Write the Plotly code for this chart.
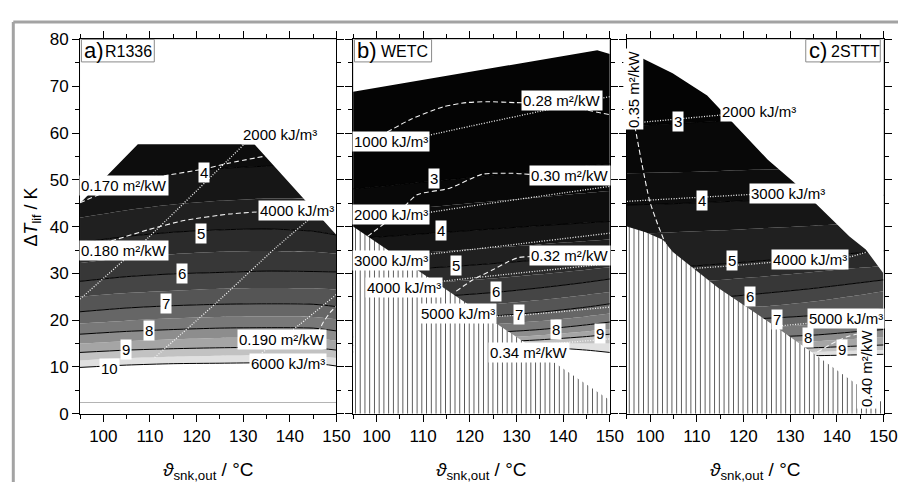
import plotly.graph_objects as go

FONT = "Liberation Sans, Arial, Helvetica, sans-serif"
TICK_FONT = "Liberation Sans Narrow, Arial Narrow, Liberation Sans, Arial, sans-serif"

# ---------------- common grid (x columns at which iso-line heights were read)
X_COLS = [95, 105, 115, 125, 135, 145, 150]

# ---------------- grey value of each COP band (band [L, L+0.5])
BAND_LEVELS = [2.5, 3, 3.5, 4, 4.5, 5, 5.5, 6, 6.5, 7, 7.5, 8, 8.5, 9, 9.5, 10]
BAND_GRAYS = ["#040404", "#080808", "#0d0d0d", "#161616", "#202020", "#2b2b2b",
              "#373737", "#454545", "#555555", "#666666", "#787878", "#8d8d8d",
              "#a5a5a5", "#c2c2c2", "#e0e0e0", "#ffffff"]

# ---------------- panel a) R1336 : COP iso-lines (y at X_COLS)
A_COP_4 = [48.0, 50.0, 51.3, 52.4, 52.9, 52.8, 52.4]
A_COP_4_5 = [41.9, 43.5, 44.7, 45.5, 46.0, 45.9, 45.5]
A_COP_5 = [36.6, 37.9, 38.8, 39.3, 39.5, 39.0, 38.2]
A_COP_5_5 = [32.2, 33.4, 34.1, 34.6, 34.8, 34.6, 34.2]
A_COP_6 = [28.3, 29.3, 29.9, 30.2, 30.5, 30.4, 30.3]
A_COP_6_5 = [25.0, 25.8, 26.3, 26.7, 26.9, 26.8, 26.5]
A_COP_7 = [21.8, 22.6, 23.1, 23.4, 23.5, 23.4, 22.9]
A_COP_7_5 = [19.3, 19.9, 20.4, 20.7, 20.8, 20.7, 20.2]
A_COP_8 = [17.0, 17.6, 18.0, 18.3, 18.4, 18.3, 17.7]
A_COP_8_5 = [15.0, 15.5, 15.9, 16.2, 16.3, 16.2, 15.6]
A_COP_9 = [13.1, 13.6, 13.9, 14.1, 14.2, 14.1, 13.6]
A_COP_9_5 = [11.4, 11.9, 12.2, 12.4, 12.5, 12.4, 11.9]
A_COP_10 = [9.9, 10.4, 10.7, 10.8, 10.9, 10.8, 10.2]
A_TOP_BAND = 3.5
# feasible-region upper edge
A_EDGE_X = [95, 107.4, 132.4, 150]
A_EDGE_Y = [45.0, 57.6, 57.6, 38.2]
# light grey line near the bottom
A_GREY_X = [95, 150]
A_GREY_Y = [2.4, 2.4]
# white dashed (m²/kW) and dotted (kJ/m³) iso-lines
A_D170_X = [95.0, 99.0, 104.0, 113.4, 121.5, 127.1, 134.9]
A_D170_Y = [45.1, 46.8, 48.6, 50.9, 52.3, 53.6, 55.1]
A_D180_X = [95.0, 102.5, 109.5, 117.3, 127.1, 134.2]
A_D180_Y = [35.5, 37.2, 39.3, 41.3, 42.7, 43.2]
A_D190_X = [146.0, 147.2, 148.6, 150.0]
A_D190_Y = [17.2, 19.6, 21.6, 23.0]
A_K2000_X = [95.0, 108.1, 130.3]
A_K2000_Y = [24.5, 36.2, 57.7]
A_K4000_X = [111.0, 124.0, 137.0, 145.5]
A_K4000_Y = [12.0, 23.5, 35.5, 42.7]
A_K6000_X = [134.0, 142.0, 150.0]
A_K6000_Y = [13.0, 19.0, 25.5]
# labels
A_COP_LAB = ["4", "5", "6", "7", "8", "9", "10"]
A_COP_LAB_X = [121.6, 120.9, 116.9, 113.4, 109.9, 104.8, 101.4]
A_COP_LAB_Y = [51.6, 38.6, 30.0, 23.5, 17.7, 13.7, 9.6]
A_TXT = ["0.170 m²/kW", "0.180 m²/kW", "0.190 m²/kW", "2000 kJ/m³", "4000 kJ/m³", "6000 kJ/m³"]
A_TXT_X = [104.4, 104.4, 138.3, 137.9, 141.5, 139.6]
A_TXT_Y = [48.8, 34.8, 15.9, 59.6, 43.5, 10.7]

# ---------------- panel b) WETC
B_COP_3 = [48.0, 49.0, 50.0, 51.0, 52.0, 53.0, 53.4]
B_COP_3_5 = [42.8, 43.6, 44.5, 45.4, 46.3, 47.2, 47.6]
B_COP_4 = [37.4, 38.1, 38.8, 39.5, 40.2, 40.8, 41.1]
B_COP_4_5 = [33.7, 34.2, 34.8, 35.5, 36.2, 36.9, 37.3]
B_COP_5 = [30.3, 30.8, 31.4, 32.1, 32.9, 33.8, 34.3]
B_COP_5_5 = [27.2, 27.7, 28.2, 28.9, 29.8, 30.8, 31.3]
B_COP_6 = [24.2, 24.7, 25.2, 25.9, 26.9, 28.1, 28.8]
B_COP_6_5 = [21.8, 22.2, 22.7, 23.4, 24.3, 25.4, 26.0]
B_COP_7 = [19.5, 19.9, 20.3, 20.9, 21.7, 22.8, 23.5]
B_COP_7_5 = [17.9, 18.2, 18.6, 19.1, 19.8, 20.8, 21.4]
B_COP_8 = [16.4, 16.7, 17.0, 17.4, 18.0, 19.0, 19.6]
B_COP_8_5 = [15.4, 15.6, 15.9, 16.2, 16.8, 17.6, 18.1]
B_COP_9 = [14.6, 14.8, 15.0, 15.3, 15.8, 16.5, 17.0]
B_COP_9_5 = [13.9, 14.1, 14.3, 14.6, 14.9, 15.0, 15.0]
B_COP_10 = [13.2, 13.4, 13.6, 13.9, 14.2, 13.6, 13.1]
B_TOP_BAND = 2.5
B_EDGE_X = [95, 147.3, 150]
B_EDGE_Y = [68.8, 77.7, 76.9]
B_HATCH_X = [95, 150]
B_HATCH_Y = [40.0, 2.9]
B_D28_X = [102.3, 107.3, 114.3, 119.2, 124.0, 129.7, 140.0, 145.2, 150.0]
B_D28_Y = [60.2, 62.9, 65.6, 66.5, 66.7, 66.5, 66.2, 64.9, 63.9]
B_D30_X = [98.1, 101.5, 105.1, 108.7, 115.7, 122.7, 129.0, 135.0]
B_D30_Y = [37.9, 40.5, 43.4, 46.8, 48.2, 51.2, 51.4, 51.0]
B_D32_X = [117.1, 120.6, 124.8, 128.0, 130.5, 133.5]
B_D32_Y = [26.2, 28.6, 30.7, 32.4, 33.4, 33.6]
B_K1000_X = [111.1, 120.3, 150.0]
B_K1000_Y = [59.5, 61.5, 67.8]
B_K2000_X = [111.1, 120.3, 150.0]
B_K2000_Y = [43.0, 44.4, 48.6]
B_K3000_X = [111.1, 120.3, 150.0]
B_K3000_Y = [34.1, 35.1, 38.6]
B_K4000_X = [113.9, 120.3, 150.0]
B_K4000_Y = [28.3, 29.0, 32.1]
B_K5000_X = [125.2, 131.2, 150.0]
B_K5000_Y = [20.8, 21.1, 22.8]
B_K6000_X = [138.0, 150.0]
B_K6000_Y = [15.0, 16.0]
B_COP_LAB = ["3", "4", "5", "6", "7", "8", "9"]
B_COP_LAB_X = [112.4, 113.9, 117.1, 125.7, 130.5, 138.5, 147.9]
B_COP_LAB_Y = [50.3, 39.1, 31.6, 26.1, 21.3, 18.1, 17.2]
B_TXT = ["0.28 m²/kW", "0.30 m²/kW", "0.32 m²/kW", "0.34 m²/kW",
         "1000 kJ/m³", "2000 kJ/m³", "3000 kJ/m³", "4000 kJ/m³", "5000 kJ/m³"]
B_TXT_X = [139.8, 141.4, 141.5, 132.7, 103.2, 103.2, 103.2, 105.8, 117.4]
B_TXT_Y = [67.0, 50.9, 33.8, 13.0, 58.1, 42.5, 32.7, 26.9, 21.4]

# ---------------- panel c) 2STTT
C_COP_3 = [61.5, 62.0, 62.5, 63.0, 63.5, 64.0, 64.2]
C_COP_3_5 = [51.4, 51.6, 51.9, 52.2, 52.6, 53.0, 53.2]
C_COP_4 = [44.6, 44.9, 45.3, 45.7, 46.1, 46.5, 46.7]
C_COP_4_5 = [38.4, 38.8, 39.2, 39.7, 40.2, 40.7, 41.0]
C_COP_5 = [30.8, 31.3, 32.0, 32.8, 33.6, 34.4, 34.8]
C_COP_5_5 = [27.6, 28.0, 28.6, 29.4, 30.3, 31.2, 31.6]
C_COP_6 = [24.0, 24.4, 24.9, 25.8, 26.8, 28.0, 28.6]
C_COP_6_5 = [21.8, 22.0, 22.4, 23.0, 24.0, 25.4, 26.2]
C_COP_7 = [19.6, 19.8, 20.0, 20.4, 21.0, 21.9, 22.4]
C_COP_7_5 = [17.8, 18.0, 18.2, 18.5, 19.0, 19.8, 20.2]
C_COP_8 = [16.0, 16.1, 16.2, 16.4, 16.8, 17.6, 18.0]
C_COP_8_5 = [14.8, 14.9, 15.0, 15.2, 15.5, 16.1, 16.4]
C_COP_9 = [13.6, 13.7, 13.8, 13.9, 14.1, 14.5, 14.7]
C_COP_9_5 = [12.8, 12.9, 13.0, 13.1, 13.2, 13.5, 13.6]
C_COP_10 = [12.0, 12.1, 12.2, 12.3, 12.4, 12.6, 12.7]
C_TOP_BAND = 2.5
C_EDGE_X = [95, 98.5, 104.8, 112.2, 115.4, 125.2, 130.8, 142.7, 146.2, 150]
C_EDGE_Y = [77.6, 75.9, 72.8, 68.0, 64.6, 54.3, 49.5, 37.9, 35.1, 30.0]
C_HATCH_X = [95, 99, 102.7, 104.8, 114.6, 126.6, 135, 149.8, 150]
C_HATCH_Y = [40.0, 38.8, 37.2, 34.6, 26.9, 18.8, 12.9, 2.3, 2.2]
C_D35_X = [96.7, 98.2, 99.9, 101.6, 103.4]
C_D35_Y = [61.5, 53.5, 45.4, 40.5, 36.0]
C_D40_X = [135.8, 139.0, 142.0, 144.2, 146.5]
C_D40_Y = [13.2, 15.0, 16.4, 17.0, 17.4]
C_K2000_X = [97.1, 115.7]
C_K2000_Y = [62.2, 63.9]
C_K3000_X = [95.0, 122.0]
C_K3000_Y = [45.4, 46.9]
C_K4000_X = [108.3, 117.0, 126.6, 142.1, 146.2]
C_K4000_Y = [31.0, 31.6, 32.4, 33.4, 34.5]
C_K5000_X = [126.6, 133.6]
C_K5000_Y = [18.7, 19.3]
C_COP_LAB = ["3", "4", "5", "6", "7", "8", "9"]
C_COP_LAB_X = [106.0, 111.0, 117.6, 121.3, 127.1, 133.8, 141.0]
C_COP_LAB_Y = [62.4, 45.6, 32.7, 25.0, 20.2, 16.3, 13.8]
C_TXT = ["2000 kJ/m³", "3000 kJ/m³", "4000 kJ/m³", "5000 kJ/m³"]
C_TXT_X = [123.4, 129.6, 134.3, 141.9]
C_TXT_Y = [64.6, 47.1, 33.0, 20.4]
C_VTXT = ["0.35 m²/kW", "0.40 m²/kW"]
C_VTXT_X = [96.4, 146.4]
C_VTXT_Y = [69.5, 9.7]

X_RANGE = [95, 150]
Y_RANGE = [0, 80]
PANEL_TITLES = ["a)", "b)", "c)"]
PANEL_NAMES = ["R1336", "WETC", "2STTT"]

# ---------------- layout geometry (paper / axis-domain fractions)
X_DOMAINS = [[0.0891, 0.3747], [0.3932, 0.6791], [0.6981, 0.9839]]
Y_DOMAIN = [0.1443, 0.9356]
TITLE_BOX_X = [[0.0054, 0.2896], [0.0054, 0.3057], [0.6969, 0.9873]]
TITLE_BOX_Y = [0.940, 1.0]
TITLE_TAG_X = [0.0090, 0.0090, 0.7030]
TITLE_NAME_X = [0.0880, 0.1000, 0.7880]

fig = go.Figure()


def band_color(level):
    return BAND_GRAYS[BAND_LEVELS.index(level)]


def axes(i):
    s = "" if i == 0 else str(i + 1)
    return "x" + s, "y" + s


def add_panel(i, curves, top_band, edge_x, edge_y, hatch_x=None, hatch_y=None):
    xa, ya = axes(i)
    base = dict(xaxis=xa, yaxis=ya, hoverinfo="skip", showlegend=False)
    # filled COP bands, bottom (high COP) to top
    fig.add_trace(go.Scatter(x=X_RANGE, y=[Y_RANGE[0]] * 2, mode="lines",
                             line=dict(width=0), **base))
    for lev, ys in sorted(curves, key=lambda t: -t[0]):
        fig.add_trace(go.Scatter(x=X_COLS, y=ys, mode="lines",
                                 line=dict(width=0, shape="spline", smoothing=0.7),
                                 fill="tonexty", fillcolor=band_color(lev), **base))
    fig.add_trace(go.Scatter(x=X_RANGE, y=[Y_RANGE[1]] * 2, mode="lines",
                             line=dict(width=0), fill="tonexty",
                             fillcolor=band_color(top_band), **base))
    # solid black iso-lines at integer COP
    for lev, ys in curves:
        if float(lev).is_integer():
            fig.add_trace(go.Scatter(x=X_COLS, y=ys, mode="lines",
                                     line=dict(color="black", width=1,
                                               shape="spline", smoothing=0.7), **base))
    # white area above the feasible region
    px = [X_RANGE[0]] + list(edge_x) + [X_RANGE[1]]
    py = [Y_RANGE[1]] + list(edge_y) + [Y_RANGE[1]]
    fig.add_trace(go.Scatter(x=px, y=py, mode="lines", fill="toself",
                             fillcolor="white", line=dict(width=0), **base))
    # hatched infeasible region
    if hatch_x is not None:
        hx = list(hatch_x) + [X_RANGE[1], X_RANGE[0]]
        hy = list(hatch_y) + [Y_RANGE[0], Y_RANGE[0]]
        fig.add_trace(go.Scatter(x=hx, y=hy, mode="lines", fill="toself",
                                 line=dict(width=0), fillcolor="white",
                                 fillpattern=dict(shape="|", size=4.74, solidity=0.2,
                                                  fgcolor="#555555", bgcolor="white",
                                                  fillmode="replace"),
                                 **base))


def add_white(i, xs, ys, kind):
    xa, ya = axes(i)
    dash = "5px,3px" if kind == "dash" else "1px,1.6px"
    w = 1.1 if kind == "dash" else 1.3
    fig.add_trace(go.Scatter(x=xs, y=ys, mode="lines",
                             line=dict(color="#f4f4f4", width=w, dash=dash, shape="spline",
                                       smoothing=0.6),
                             xaxis=xa, yaxis=ya, hoverinfo="skip", showlegend=False))


def add_label(i, text, x, y, size=15, angle=0):
    xa, ya = axes(i)
    fig.add_annotation(x=x, y=y, xref=xa, yref=ya, text=text, showarrow=False,
                       font=dict(family=FONT, size=size, color="black"),
                       bgcolor="white", borderpad=1, textangle=angle)


# ---------- panel a
add_panel(0, [(4, A_COP_4), (4.5, A_COP_4_5), (5, A_COP_5), (5.5, A_COP_5_5),
              (6, A_COP_6), (6.5, A_COP_6_5), (7, A_COP_7), (7.5, A_COP_7_5),
              (8, A_COP_8), (8.5, A_COP_8_5), (9, A_COP_9), (9.5, A_COP_9_5),
              (10, A_COP_10)], A_TOP_BAND, A_EDGE_X, A_EDGE_Y)
fig.add_trace(go.Scatter(x=A_GREY_X, y=A_GREY_Y, mode="lines",
                         line=dict(color="#b4b4b4", width=1.2),
                         xaxis="x", yaxis="y", hoverinfo="skip", showlegend=False))
for xs, ys in [(A_D170_X, A_D170_Y), (A_D180_X, A_D180_Y), (A_D190_X, A_D190_Y)]:
    add_white(0, xs, ys, "dash")
for xs, ys in [(A_K2000_X, A_K2000_Y), (A_K4000_X, A_K4000_Y), (A_K6000_X, A_K6000_Y)]:
    add_white(0, xs, ys, "dot")
for t, x, y in zip(A_COP_LAB, A_COP_LAB_X, A_COP_LAB_Y):
    add_label(0, t, x, y, 15)
for t, x, y in zip(A_TXT, A_TXT_X, A_TXT_Y):
    add_label(0, t, x, y, 15)

# ---------- panel b
add_panel(1, [(3, B_COP_3), (3.5, B_COP_3_5), (4, B_COP_4), (4.5, B_COP_4_5),
              (5, B_COP_5), (5.5, B_COP_5_5), (6, B_COP_6), (6.5, B_COP_6_5),
              (7, B_COP_7), (7.5, B_COP_7_5), (8, B_COP_8), (8.5, B_COP_8_5),
              (9, B_COP_9), (9.5, B_COP_9_5), (10, B_COP_10)],
          B_TOP_BAND, B_EDGE_X, B_EDGE_Y, B_HATCH_X, B_HATCH_Y)
for xs, ys in [(B_D28_X, B_D28_Y), (B_D30_X, B_D30_Y), (B_D32_X, B_D32_Y)]:
    add_white(1, xs, ys, "dash")
for xs, ys in [(B_K1000_X, B_K1000_Y), (B_K2000_X, B_K2000_Y), (B_K3000_X, B_K3000_Y),
               (B_K4000_X, B_K4000_Y), (B_K5000_X, B_K5000_Y), (B_K6000_X, B_K6000_Y)]:
    add_white(1, xs, ys, "dot")
for t, x, y in zip(B_COP_LAB, B_COP_LAB_X, B_COP_LAB_Y):
    add_label(1, t, x, y, 15)
for t, x, y in zip(B_TXT, B_TXT_X, B_TXT_Y):
    add_label(1, t, x, y, 15)

# ---------- panel c
add_panel(2, [(3, C_COP_3), (3.5, C_COP_3_5), (4, C_COP_4), (4.5, C_COP_4_5),
              (5, C_COP_5), (5.5, C_COP_5_5), (6, C_COP_6), (6.5, C_COP_6_5),
              (7, C_COP_7), (7.5, C_COP_7_5), (8, C_COP_8), (8.5, C_COP_8_5),
              (9, C_COP_9), (9.5, C_COP_9_5), (10, C_COP_10)],
          C_TOP_BAND, C_EDGE_X, C_EDGE_Y, C_HATCH_X, C_HATCH_Y)
for xs, ys in [(C_D35_X, C_D35_Y), (C_D40_X, C_D40_Y)]:
    add_white(2, xs, ys, "dash")
for xs, ys in [(C_K2000_X, C_K2000_Y), (C_K3000_X, C_K3000_Y), (C_K4000_X, C_K4000_Y),
               (C_K5000_X, C_K5000_Y)]:
    add_white(2, xs, ys, "dot")
for t, x, y in zip(C_COP_LAB, C_COP_LAB_X, C_COP_LAB_Y):
    add_label(2, t, x, y, 15)
for t, x, y in zip(C_TXT, C_TXT_X, C_TXT_Y):
    add_label(2, t, x, y, 15)
for t, x, y in zip(C_VTXT, C_VTXT_X, C_VTXT_Y):
    add_label(2, t, x, y, 15, angle=-90)

# ---------- axes
layout = dict(width=912, height=492, margin=dict(l=0, r=0, t=0, b=0),
              paper_bgcolor="white", plot_bgcolor="white", showlegend=False)
for i in range(3):
    s = "" if i == 0 else str(i + 1)
    layout["xaxis" + s] = dict(
        domain=X_DOMAINS[i], anchor="y" + s, range=X_RANGE, dtick=10, tick0=100,
        ticks="outside", ticklen=7, tickwidth=1, tickcolor="black",
        showline=True, linecolor="black", linewidth=1, mirror="ticks",
        showgrid=False, zeroline=False,
        minor=dict(dtick=5, tick0=95, ticks="outside", ticklen=4, tickwidth=1,
                   tickcolor="black", showgrid=False),
        tickfont=dict(family=TICK_FONT, size=17, color="black"))
    layout["yaxis" + s] = dict(
        domain=Y_DOMAIN, anchor="x" + s, range=Y_RANGE, dtick=10, tick0=0,
        ticks="outside", ticklen=7, tickwidth=1, tickcolor="black",
        showline=True, linecolor="black", linewidth=1, mirror="ticks",
        showgrid=False, zeroline=False, showticklabels=(i == 0),
        minor=dict(dtick=5, tick0=0, ticks="outside", ticklen=4, tickwidth=1,
                   tickcolor="black", showgrid=False),
        tickfont=dict(family=TICK_FONT, size=17, color="black"))
fig.update_layout(**layout)

# panel titles (boxed) and x-axis titles
for i in range(3):
    s = "" if i == 0 else str(i + 1)
    xd, yd = "x" + s + " domain", "y" + s + " domain"
    fig.add_shape(type="rect", xref=xd, yref=yd,
                  x0=TITLE_BOX_X[i][0], x1=TITLE_BOX_X[i][1],
                  y0=TITLE_BOX_Y[0], y1=TITLE_BOX_Y[1],
                  line=dict(color="#8a8a8a", width=1), fillcolor="white", layer="above")
    fig.add_annotation(xref=xd, yref=yd, x=TITLE_TAG_X[i], y=0.971,
                       xanchor="left", yanchor="middle", showarrow=False,
                       text=PANEL_TITLES[i],
                       font=dict(family=FONT, size=22, color="black"))
    fig.add_annotation(xref=xd, yref=yd, x=TITLE_NAME_X[i], y=0.969,
                       xanchor="left", yanchor="middle", showarrow=False,
                       text=PANEL_NAMES[i],
                       font=dict(family=FONT, size=16, color="black"))
    fig.add_annotation(
        xref=xd, yref="paper", x=0.5, y=0.024,
        xanchor="center", yanchor="middle", showarrow=False,
        text="<i>ϑ</i><sub>snk,out</sub> / °C",
        font=dict(family=FONT, size=19, color="black"))

# y-axis title
fig.add_annotation(xref="paper", yref="paper", x=33 / 912, y=0.56, textangle=-90,
                   xanchor="center", yanchor="middle", showarrow=False,
                   text="Δ<i>T</i><sub>lif</sub> / K",
                   font=dict(family=FONT, size=18, color="black"))

# outer grey frame (top and left edges visible)
FRAME_X = 13.5 / 912
FRAME_Y = 1 - 13.5 / 492
fig.add_shape(type="line", xref="paper", yref="paper", x0=FRAME_X, x1=1.0,
              y0=FRAME_Y, y1=FRAME_Y, line=dict(color="#a3a3a3", width=3))
fig.add_shape(type="line", xref="paper", yref="paper", x0=FRAME_X, x1=FRAME_X,
              y0=0.0, y1=FRAME_Y, line=dict(color="#a3a3a3", width=3))

fig.write_html("out.html")
